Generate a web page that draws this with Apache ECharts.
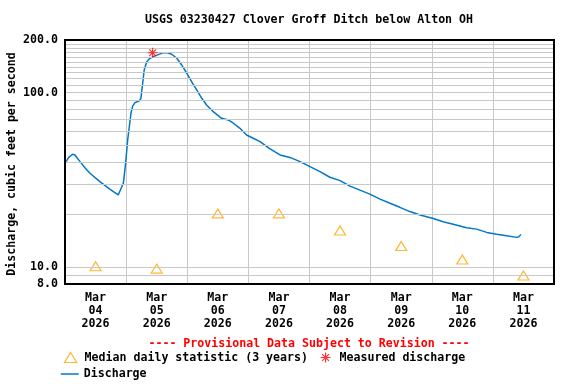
<!DOCTYPE html>
<html>
<head>
<meta charset="utf-8">
<script src="https://cdn.jsdelivr.net/npm/echarts@6/dist/echarts.min.js"></script>
<style>html,body{margin:0;padding:0;background:#fff;}#c{width:576px;height:384px;}</style>
</head>
<body>
<div id="c"></div>
<script>
// ---- data ----
const titleText = 'USGS 03230427 Clover Groff Ditch below Alton OH';
const provisionalText = '---- Provisional Data Subject to Revision ----';
const yAxisName = 'Discharge, cubic feet per second';
const dayLabels = ['Mar\n04\n2026','Mar\n05\n2026','Mar\n06\n2026','Mar\n07\n2026','Mar\n08\n2026','Mar\n09\n2026','Mar\n10\n2026','Mar\n11\n2026'];
const yTickValues = [8, 10, 100, 200];
const gridValues = [9,10,20,30,40,50,60,70,80,90,100,110,120,130,140,150,160,170,180,190];

const dischargeTimes = [
 '2026-03-04 00:24','2026-03-04 01:34','2026-03-04 03:00','2026-03-04 03:54','2026-03-04 05:54','2026-03-04 07:54',
 '2026-03-04 09:48','2026-03-04 13:42','2026-03-04 17:42','2026-03-04 20:54','2026-03-04 21:36','2026-03-04 22:54',
 '2026-03-04 23:48','2026-03-05 00:36','2026-03-05 01:06','2026-03-05 01:54','2026-03-05 02:36','2026-03-05 03:30',
 '2026-03-05 05:12','2026-03-05 05:48','2026-03-05 06:30','2026-03-05 07:06','2026-03-05 08:06','2026-03-05 09:24',
 '2026-03-05 10:42','2026-03-05 12:36','2026-03-05 14:36','2026-03-05 16:00','2026-03-05 17:54','2026-03-05 19:54',
 '2026-03-05 21:48','2026-03-05 23:48','2026-03-06 01:42','2026-03-06 03:42','2026-03-06 05:42','2026-03-06 07:36',
 '2026-03-06 10:12','2026-03-06 13:30','2026-03-06 16:06','2026-03-06 18:06','2026-03-06 20:42','2026-03-06 23:18',
 '2026-03-07 01:54','2026-03-07 04:36','2026-03-07 08:12','2026-03-07 12:24','2026-03-07 16:18','2026-03-07 20:18',
 '2026-03-08 00:12','2026-03-08 04:06','2026-03-08 08:00','2026-03-08 12:00','2026-03-08 15:54','2026-03-08 19:48',
 '2026-03-08 23:42','2026-03-09 03:42','2026-03-09 07:36','2026-03-09 11:30','2026-03-09 15:24','2026-03-09 19:24',
 '2026-03-10 00:36','2026-03-10 04:30','2026-03-10 08:24','2026-03-10 13:42','2026-03-10 17:36','2026-03-10 21:36',
 '2026-03-11 01:30','2026-03-11 05:24','2026-03-11 09:18','2026-03-11 10:12','2026-03-11 11:00'
];
const dischargeValues = [
 40.2,42.7,44.3,43.9,40.2,37.0,
 34.5,30.9,27.9,25.9,26.2,30.2,
 39.3,53.5,61.0,76.1,83.8,87.5,
 89.8,92.7,113,134.7,150.3,157.2,
 160.6,164.9,169.3,169.3,165.8,157.2,
 143.9,129,115.5,103.5,92.7,84.9,
 77.7,71.2,69.7,66.7,62.4,57.1,
 54.7,52.3,47.9,43.9,42.5,40.2,
 37.6,35.2,32.7,31.3,29.1,27.6,
 26.2,24.5,23.2,22.0,20.8,19.9,
 19.0,18.2,17.6,16.8,16.5,15.8,
 15.4,15.1,14.8,14.9,15.4
];
const medianTimes = ['2026-03-04 12:00','2026-03-05 12:00','2026-03-06 12:00','2026-03-07 12:00','2026-03-08 12:00','2026-03-09 12:00','2026-03-10 12:00','2026-03-11 12:00'];
const medianValues = [10.1, 9.8, 20.3, 20.3, 16.2, 13.2, 11.05, 8.95];
const measuredTimes = ['2026-03-05 10:24'];
const measuredValues = [169];

// ---- chart ----
const FONT = 'DejaVu Sans Mono';
const FS = 11.6;
const asterisk = 'path://M5,0L5,10M0,5L10,5M1.6,1.6L8.4,8.4M8.4,1.6L1.6,8.4';
const triPath = 'path://M5.5,0L11,9L0,9Z';
const chart = echarts.init(document.getElementById('c'), null, {renderer: 'canvas'});

const option = {
  animation: false,
  backgroundColor: '#ffffff',
  textStyle: {fontFamily: FONT, fontWeight: 'bold', fontSize: FS, color: '#000'},
  title: [
    {text: titleText, left: 309, textAlign: 'center', top: 14, padding: 0,
     textStyle: {fontFamily: FONT, fontWeight: 'bold', fontSize: FS, color: '#000'}},
    {text: provisionalText, left: 309, textAlign: 'center', top: 338, padding: 0,
     textStyle: {fontFamily: FONT, fontWeight: 'bold', fontSize: FS, color: '#ff0000'}}
  ],
  graphic: [
    {type: 'text', x: 12, y: 164, rotation: Math.PI / 2, silent: true,
     style: {text: yAxisName, fill: '#000', align: 'center', verticalAlign: 'middle',
             font: 'bold ' + FS + 'px "' + FONT + '"'}}
  ],
  legend: [
    {left: 62, top: 350, padding: 0, itemWidth: 18, itemHeight: 10, itemGap: 12,
     textStyle: {fontFamily: FONT, fontWeight: 'bold', fontSize: FS, color: '#000'},
     data: [
       {name: 'Median daily statistic (3 years)', icon: triPath,
        itemStyle: {color: 'none', borderColor: '#ffa500', borderWidth: 1.2}},
       {name: 'Measured discharge', icon: asterisk,
        itemStyle: {color: '#ff0000', borderColor: '#ff0000', borderWidth: 1.2}}
     ]},
    {left: 60, top: 368, padding: 0, itemWidth: 18, itemHeight: 10,
     textStyle: {fontFamily: FONT, fontWeight: 'bold', fontSize: FS, color: '#000'},
     data: [{name: 'Discharge', itemStyle: {color: 'transparent', borderColor: 'transparent', borderWidth: 0},
             lineStyle: {color: '#0078c8', width: 1.5}}]}
  ],
  grid: {left: 65, right: 22, top: 40, bottom: 100, show: true, z: 10, outerBoundsMode: 'none',
         borderColor: '#000', borderWidth: 2, backgroundColor: 'transparent', containLabel: false},
  xAxis: [
    {type: 'time', min: '2026-03-04 00:00', max: '2026-03-12 00:00', show: false},
    {type: 'category', data: dayLabels, boundaryGap: true, position: 'bottom',
     axisLine: {show: false}, axisTick: {show: false},
     splitLine: {show: true, lineStyle: {color: '#c8c8c8', width: 1}},
     axisLabel: {margin: 7, lineHeight: 13.3, fontFamily: FONT, fontWeight: 'bold', fontSize: FS, color: '#000', interval: 0}}
  ],
  yAxis: {
    type: 'log', logBase: 10, min: 8, max: 200,
    axisLine: {show: false}, axisTick: {show: false}, splitLine: {show: false},
    axisLabel: {customValues: yTickValues, showMinLabel: true, showMaxLabel: true, margin: 7,
      fontFamily: FONT, fontWeight: 'bold', fontSize: FS, color: '#000',
      formatter: v => Number(v).toFixed(1)}
  },
  series: [
    {name: 'grid', type: 'line', xAxisIndex: 0, data: [], z: 1, silent: true,
     markLine: {silent: true, symbol: 'none', label: {show: false}, animation: false,
       lineStyle: {color: '#c8c8c8', type: 'solid', width: 1},
       data: gridValues.map(v => ({yAxis: v}))}},
    {name: 'Discharge', type: 'line', xAxisIndex: 0, showSymbol: false, symbol: 'none',
     lineStyle: {color: '#0078c8', width: 1.5}, itemStyle: {color: '#0078c8'}, z: 3,
     data: dischargeTimes.map((t, i) => [t, dischargeValues[i]])},
    {name: 'Median daily statistic (3 years)', type: 'scatter', xAxisIndex: 0, symbol: 'triangle', symbolSize: [11, 9],
     itemStyle: {color: 'none', borderColor: '#ffa500', borderWidth: 1.2}, z: 4,
     data: medianTimes.map((t, i) => [t, medianValues[i]])},
    {name: 'Measured discharge', type: 'scatter', xAxisIndex: 0, symbol: asterisk, symbolSize: 10,
     itemStyle: {color: '#ff0000', borderColor: '#ff0000', borderWidth: 1.2}, z: 5,
     data: measuredTimes.map((t, i) => [t, measuredValues[i]])}
  ]
};
chart.setOption(option);
</script>
</body>
</html>
